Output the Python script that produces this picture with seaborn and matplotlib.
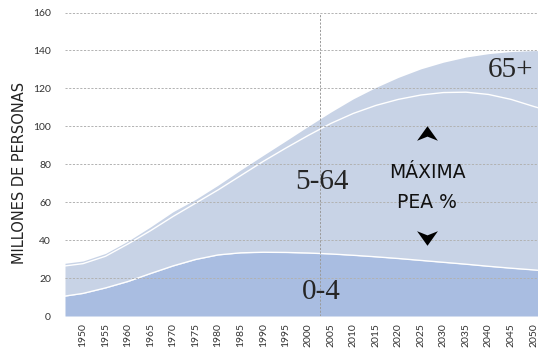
import numpy as np
import pandas as pd
import matplotlib
matplotlib.use("Agg")
import matplotlib.pyplot as plt
import seaborn as sns
from matplotlib.path import Path

years = [1946, 1950, 1955, 1960, 1965, 1970, 1975, 1980, 1985, 1990, 1995, 2000,
         2005, 2010, 2015, 2020, 2025, 2030, 2035, 2040, 2045, 2050, 2051]
# cumulative boundaries (millions)
top_0_4 = [10.5, 11.9, 14.8, 18.2, 22.4, 26.4, 29.8, 32.2, 33.3, 33.6, 33.5, 33.2,
           32.7, 32.0, 31.2, 30.3, 29.3, 28.3, 27.3, 26.2, 25.2, 24.3, 24.1]
top_5_64 = [26.4, 27.6, 31.5, 38.0, 45.0, 52.5, 59.5, 66.5, 74.0, 81.5, 88.5, 95.2,
            101.5, 106.8, 111.0, 114.2, 116.5, 117.8, 118.0, 116.8, 114.2, 110.5, 109.8]
top_65 = [27.8, 29.0, 33.0, 39.5, 47.0, 55.0, 61.5, 69.0, 77.0, 84.7, 92.3, 100.0,
          107.5, 114.5, 120.5, 125.8, 130.3, 133.8, 136.5, 138.3, 139.4, 139.9, 139.9]

tick_years = list(range(1950, 2051, 5))
y_ticks = list(range(0, 161, 20))
ref_year = 2002.5

df = pd.DataFrame({"year": years, "a": top_0_4, "b": top_5_64, "c": top_65})

sns.set_theme(style="white")
plt.rcParams["font.family"] = ["Lato", "DejaVu Sans"]

fig = plt.figure(figsize=(5.38, 3.56), dpi=100)
ax = fig.add_axes([65 / 538, 1 - 316 / 356, 1 - 65 / 538, (316 - 12.5) / 356])

c_low = "#a9bde1"
c_up = "#c8d3e6"
ax.fill_between(df["year"], 0, df["a"], color=c_low, lw=0, zorder=1)
ax.fill_between(df["year"], df["a"], df["c"], color=c_up, lw=0, zorder=1)
sns.lineplot(data=df, x="year", y="a", ax=ax, color="white", lw=1.0, zorder=2)
sns.lineplot(data=df, x="year", y="b", ax=ax, color="white", lw=1.0, zorder=2)

ax.set_xlim(1946, 2051)
ax.set_ylim(0, 160)

for v in y_ticks[1:]:
    ax.axhline(v, color="#b2b2b2", lw=0.7, ls=(0, (2.2, 1.6)), zorder=3)
ax.axvline(ref_year, color="#9a9a9a", lw=0.7, ls=(0, (2.2, 1.6)), zorder=3)

ax.set_xticks(tick_years)
ax.set_xticklabels([str(y) for y in tick_years], rotation=90, fontsize=7.5, color="#333333")
ax.set_yticks(y_ticks)
ax.set_yticklabels([str(v) for v in y_ticks], fontsize=7.5, color="#333333")
ax.tick_params(axis="y", pad=10, length=0)
ax.tick_params(axis="x", pad=5, length=0)
ax.set_xlabel("")
ax.set_ylabel("MILLONES DE PERSONAS", fontsize=10.5, color="#222222",
              family=["DejaVu Sans"])
ax.yaxis.set_label_coords(-0.080, 0.471)
for s in ax.spines.values():
    s.set_visible(False)

serif = ["Liberation Serif", "DejaVu Serif"]
ax.text(2045, 129.5, "65+", fontsize=21, family=serif, ha="center", va="center", zorder=5)
ax.text(2003, 70.5, "5-64", fontsize=21, family=serif, ha="center", va="center", zorder=5)
ax.text(2003, 12.5, "0-4", fontsize=21, family=serif, ha="center", va="center", zorder=5)
ax.text(2026.4, 75.5, "MÁXIMA", fontsize=13.5, ha="center", va="center", color="#111111",
        zorder=5, family=["DejaVu Sans"])
ax.text(2026.4, 60, "PEA %", fontsize=13.5, ha="center", va="center", color="#111111",
        zorder=5, family=["DejaVu Sans"])

up = Path([(0, 0.7), (-1, -0.7), (0, -0.3), (1, -0.7), (0, 0.7)],
          [Path.MOVETO, Path.LINETO, Path.LINETO, Path.LINETO, Path.CLOSEPOLY])
down = Path([(0, -0.7), (-1, 0.7), (0, 0.3), (1, 0.7), (0, -0.7)],
            [Path.MOVETO, Path.LINETO, Path.LINETO, Path.LINETO, Path.CLOSEPOLY])
ax.plot([2026.4], [96.5], marker=up, ms=15, color="black", mew=0, zorder=5)
ax.plot([2026.4], [41], marker=down, ms=15, color="black", mew=0, zorder=5)

fig.savefig("out.png", dpi=100)
